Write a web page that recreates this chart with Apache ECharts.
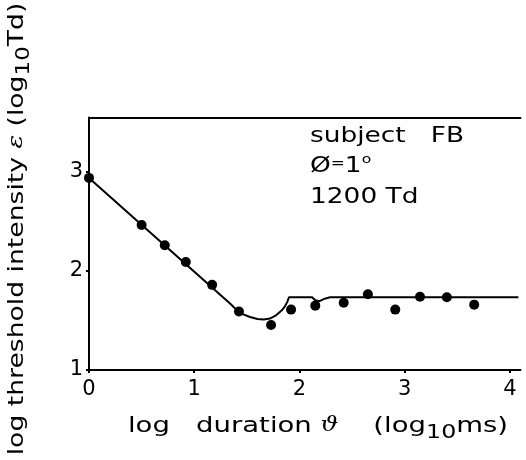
<!DOCTYPE html>
<html>
<head>
<meta charset="utf-8">
<script src="https://cdn.jsdelivr.net/npm/echarts@6/dist/echarts.min.js"></script>
<style>
  html, body { margin: 0; padding: 0; background: #fff; }
  #chart { width: 526px; height: 460px; }
</style>
</head>
<body>
<div id="chart"></div>
<script>
// Threshold intensity vs. flash duration, subject FB
const xTicks = [0, 1, 2, 3, 4];
const yTicks = [1, 2, 3];

// measured thresholds: [log duration, log threshold intensity]
const measuredX = [0.00, 0.50, 0.72, 0.92, 1.17, 1.425, 1.73, 1.92, 2.15, 2.42, 2.65, 2.91, 3.145, 3.40, 3.66];
const measuredY = [2.94, 2.465, 2.26, 2.09, 1.86, 1.59, 1.455, 1.61, 1.65, 1.68, 1.765, 1.61, 1.74, 1.735, 1.66];

// fitted curve
const curveX = [0.00, 1.34, 1.40, 1.46, 1.53, 1.60, 1.66, 1.72, 1.78, 1.83, 1.86, 1.885, 1.90, 2.12, 2.15, 2.19, 2.24, 2.29, 4.08];
const curveY = [2.94, 1.672, 1.61, 1.565, 1.535, 1.515, 1.51, 1.52, 1.555, 1.60, 1.64, 1.69, 1.735, 1.735, 1.705, 1.695, 1.72, 1.735, 1.735];

const FONT = '"DejaVu Sans", "Liberation Sans", Arial, sans-serif';
const GREEK = '"DejaVu Serif", serif';
const pairs = (xs, ys) => xs.map((x, i) => [x, ys[i]]);

const chart = echarts.init(document.getElementById('chart'), null, { renderer: 'canvas' });

// wide lettering used for titles and the legend block
const WIDE = 1.2;

chart.setOption({
  animation: false,
  backgroundColor: '#ffffff',
  grid: { left: 89, right: 5.5, top: 117.5, bottom: 90, outerBoundsMode: 'none', containLabel: false },
  xAxis: [{
    type: 'value',
    min: 0, max: 4.1, interval: 1,
    position: 'bottom',
    axisLine: { show: true, lineStyle: { color: '#000', width: 2 } },
    axisTick: { show: true, inside: false, length: 3, customValues: xTicks, lineStyle: { color: '#000', width: 2 } },
    axisLabel: { customValues: xTicks, color: '#000', fontFamily: FONT, fontSize: 21, margin: 9 },
    splitLine: { show: false }
  }, {
    type: 'value',
    min: 0, max: 4.1,
    position: 'top',
    axisLine: { show: true, lineStyle: { color: '#000', width: 2 } },
    axisTick: { show: false },
    axisLabel: { show: false },
    splitLine: { show: false }
  }],
  yAxis: {
    type: 'value',
    min: 1, max: 3.55, interval: 1,
    axisLine: { show: true, lineStyle: { color: '#000', width: 2 } },
    axisTick: { show: true, inside: false, length: 3, customValues: yTicks, lineStyle: { color: '#000', width: 2 } },
    axisLabel: { customValues: yTicks, color: '#000', fontFamily: FONT, fontSize: 21, margin: 6 },
    splitLine: { show: false }
  },
  graphic: [
    // x-axis title
    {
      type: 'text', x: 318, y: 426, scaleX: 1.25,
      style: {
        text: '{t|log   duration }{g|ϑ}{t|    (log}{s|10}{t|ms)}',
        align: 'center', verticalAlign: 'middle',
        rich: {
          t: { fontFamily: FONT, fontSize: 22, fill: '#000', lineHeight: 26 },
          g: { fontFamily: GREEK, fontStyle: 'italic', fontSize: 20, fill: '#000', lineHeight: 26 },
          s: { fontFamily: FONT, fontSize: 19, fill: '#000', lineHeight: 26, padding: [14, 0, 0, 0] }
        }
      }
    },
    // y-axis title
    {
      type: 'text', x: 17, y: 229, rotation: Math.PI / 2, scaleX: 1.21,
      style: {
        text: '{t|log threshold intensity }{g|ε}{t| (log}{s|10}{t|Td)}',
        align: 'center', verticalAlign: 'middle',
        rich: {
          t: { fontFamily: FONT, fontSize: 22, fill: '#000', lineHeight: 26 },
          g: { fontFamily: GREEK, fontStyle: 'italic', fontSize: 21, fill: '#000', lineHeight: 26 },
          s: { fontFamily: FONT, fontSize: 19, fill: '#000', lineHeight: 26, padding: [14, 0, 0, 0] }
        }
      }
    },
    // subject / field / adaptation block
    {
      type: 'text', x: 310, y: 136, scaleX: WIDE,
      style: { text: 'subject   FB', font: '22px ' + FONT, fill: '#000', verticalAlign: 'middle' }
    },
    {
      type: 'text', x: 310, y: 166, scaleX: WIDE,
      style: {
        text: '{a|Ø}{b|=}{a|1}{c|o}',
        verticalAlign: 'middle',
        rich: {
          a: { fontFamily: FONT, fontSize: 22, fill: '#000', lineHeight: 26 },
          b: { fontFamily: FONT, fontSize: 14, fill: '#000', lineHeight: 26, padding: [0, 0, 4, 0] },
          c: { fontFamily: FONT, fontSize: 13, fill: '#000', lineHeight: 26, padding: [0, 0, 12, 0] }
        }
      }
    },
    {
      type: 'text', x: 310, y: 197, scaleX: WIDE,
      style: { text: '1200 Td', font: '22px ' + FONT, fill: '#000', verticalAlign: 'middle' }
    }
  ],
  series: [{
    name: 'fit',
    type: 'line',
    data: pairs(curveX, curveY),
    showSymbol: false,
    smooth: false,
    lineStyle: { color: '#000', width: 2 },
    z: 2
  }, {
    name: 'measured',
    type: 'scatter',
    data: pairs(measuredX, measuredY),
    symbol: 'circle',
    symbolSize: 10,
    itemStyle: { color: '#000', opacity: 1 },
    z: 3
  }]
});
</script>
</body>
</html>
